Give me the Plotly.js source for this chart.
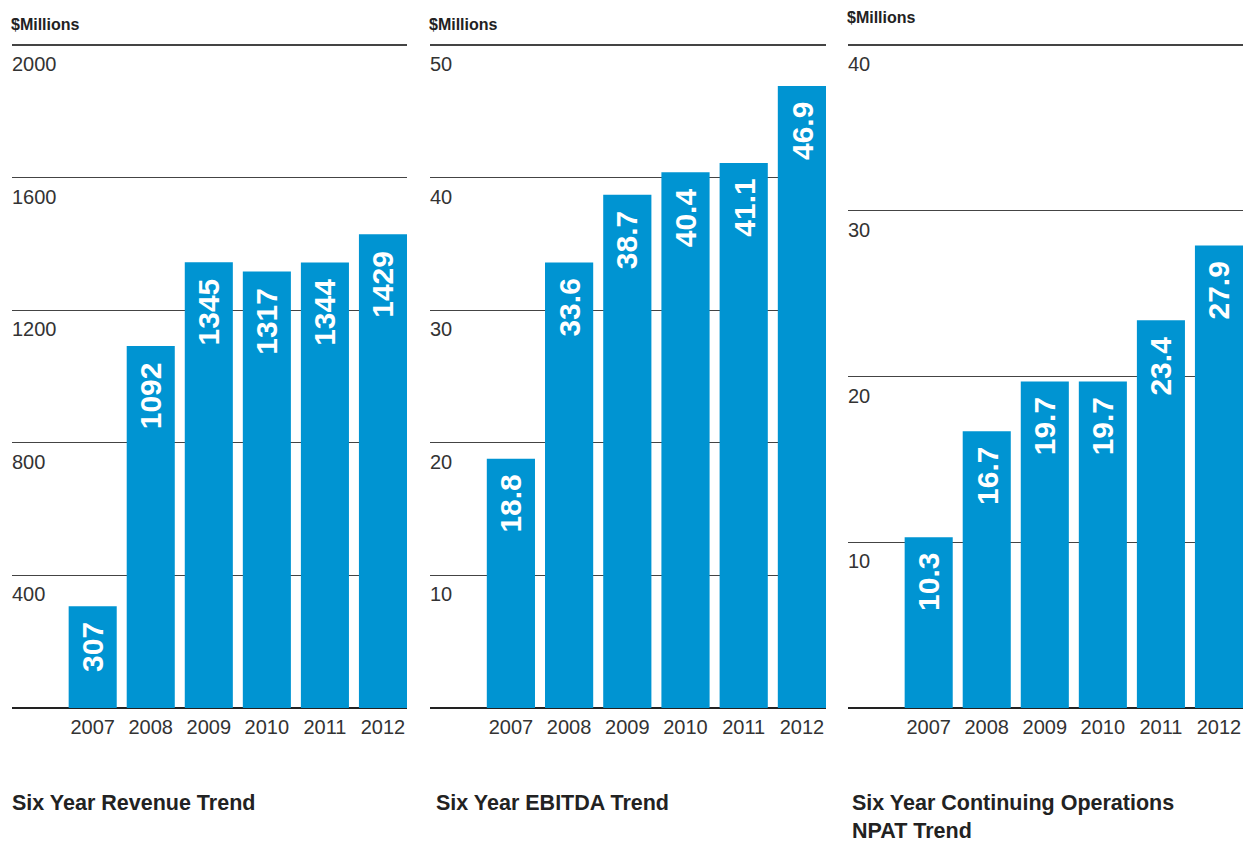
<!DOCTYPE html>
<html>
<head>
<meta charset="utf-8">
<script src="https://cdn.plot.ly/plotly-3.0.1.min.js"></script>
<style>html,body{margin:0;padding:0;background:#fff;}#chart{width:1243px;height:845px;}</style>
</head>
<body>
<div id="chart"></div>
<script>
// ---- data ----
const years = ["2007", "2008", "2009", "2010", "2011", "2012"];
const revenue = [307, 1092, 1345, 1317, 1344, 1429];
const ebitda = [18.8, 33.6, 38.7, 40.4, 41.1, 46.9];
const npat = [10.3, 16.7, 19.7, 19.7, 23.4, 27.9];
const revenueTicks = [0, 400, 800, 1200, 1600, 2000];
const ebitdaTicks = [0, 10, 20, 30, 40, 50];
const npatTicks = [0, 10, 20, 30, 40];
const titles = ["Six Year Revenue Trend", "Six Year EBITDA Trend", "Six Year Continuing Operations", "NPAT Trend"];
const unitLabel = "$Millions";

// ---- layout helpers ----
const W = 1243, H = 845;
const mt = 40, mb = 132;
const pxTop = 45, pxZero = 708;
const panels = [
  {vals: revenue, ticks: revenueTicks, fmt: v => String(v), px: [12, 407], unitY: 24},
  {vals: ebitda, ticks: ebitdaTicks, fmt: v => v.toFixed(1), px: [430, 826], unitY: 24},
  {vals: npat, ticks: npatTicks, fmt: v => v.toFixed(1), px: [848, 1243], unitY: 18}
];
const BLUE = "#0094D2";
const FONT = "Liberation Sans, Arial, Helvetica, sans-serif";

function paperY(px) { return (H - mb - px) / (H - mt - mb); }
function paperX(px) { return px / W; }

const traces = [];
const annotations = [];
const layout = {
  width: W, height: H,
  margin: {l: 0, r: 0, t: mt, b: mb, pad: 0},
  paper_bgcolor: "#fff", plot_bgcolor: "rgba(0,0,0,0)",
  showlegend: false,
  bargap: 0.172,
  font: {family: FONT, color: "#333"},
  annotations: annotations
};

panels.forEach((p, i) => {
  const n = i === 0 ? "" : String(i + 1);
  const xa = "x" + n, ya = "y" + n;
  const max = p.ticks[p.ticks.length - 1];
  const s = (pxZero - pxTop) / max;
  const plotBottom = H - mb;
  const lo = -(plotBottom - pxZero) / s;
  const hi = max + (pxTop - mt) / s;

  traces.push({
    type: "bar", x: years, y: p.vals, xaxis: xa, yaxis: ya,
    marker: {color: BLUE, line: {width: 0}},
    hoverinfo: "x+y"
  });

  layout["xaxis" + n] = {
    domain: [p.px[0] / W, p.px[1] / W],
    anchor: ya,
    type: "category",
    range: [-1.39, 5.414],
    showgrid: false, zeroline: false, showline: false,
    ticks: "",
    tickfont: {size: 20, color: "#333", family: FONT},
    ticklabelstandoff: 0,
    fixedrange: true
  };
  layout["yaxis" + n] = {
    domain: [0, 1],
    anchor: xa,
    range: [lo, hi],
    tickvals: p.ticks,
    ticktext: p.ticks.map(String),
    showgrid: true, gridcolor: "#444", gridwidth: 1.2,
    zeroline: true, zerolinecolor: "#222", zerolinewidth: 1.5,
    showline: false,
    ticks: "",
    ticklabelposition: "inside",
    ticklabelshift: 19,
    ticklabelstandoff: -3,
    tickfont: {size: 20, color: "#333", family: FONT},
    fixedrange: true
  };

  // value labels inside bars (x = category index)
  years.forEach((yr, j) => {
    annotations.push({
      xref: xa, yref: ya, x: j, y: p.vals[j],
      text: p.fmt(p.vals[j]),
      textangle: -90,
      xanchor: "center", yanchor: "top",
      yshift: -14,
      showarrow: false,
      font: {size: 30, color: "#fff", family: FONT, weight: 700}
    });
  });

  // unit label
  annotations.push({
    xref: "paper", yref: "paper",
    x: paperX(p.px[0] - 2), y: paperY(p.unitY),
    text: "<b>" + unitLabel + "</b>",
    xanchor: "left", yanchor: "middle",
    showarrow: false, borderpad: 0,
    font: {size: 16, color: "#222", family: FONT}
  });
});

const titlePos = [[11, 803], [435, 803], [851, 803], [851, 831]];
titles.forEach((t, i) => {
  annotations.push({
    xref: "paper", yref: "paper",
    x: paperX(titlePos[i][0]), y: paperY(titlePos[i][1]),
    text: "<b>" + t + "</b>",
    xanchor: "left", yanchor: "middle",
    showarrow: false, borderpad: 0,
    font: {size: 21.5, color: "#222", family: FONT}
  });
});

Plotly.newPlot("chart", traces, layout, {displayModeBar: false, staticPlot: true});
</script>
</body>
</html>
